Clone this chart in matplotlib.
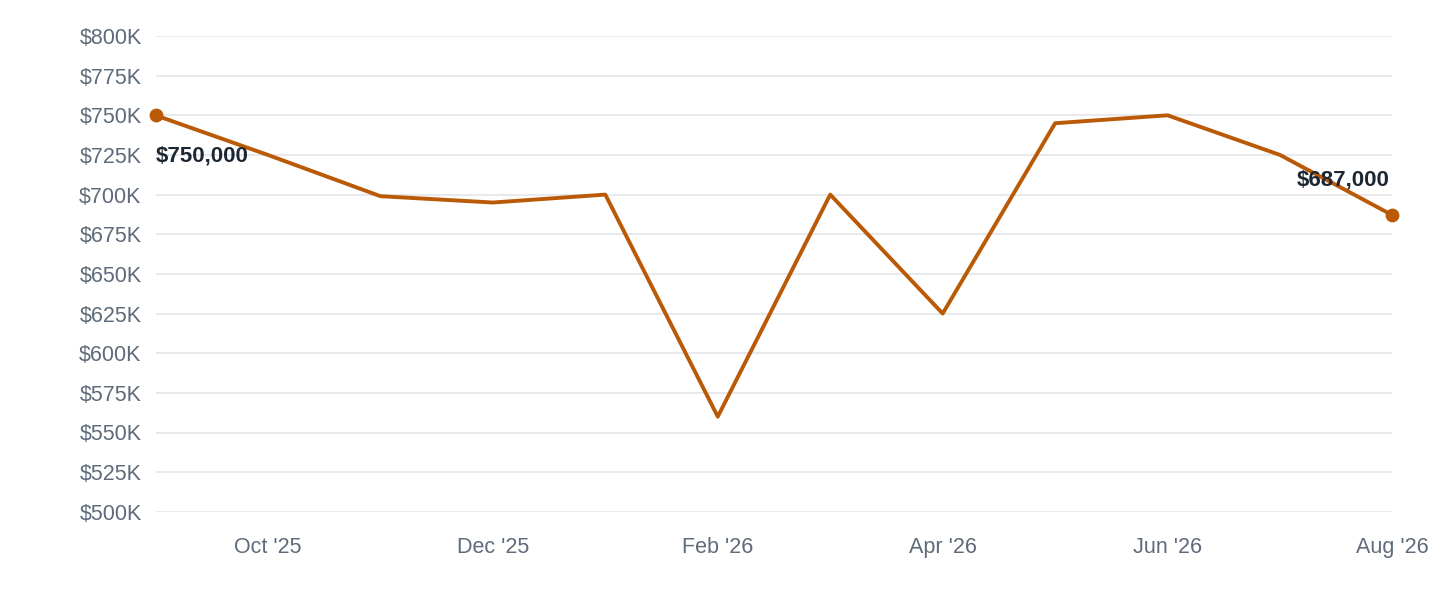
import matplotlib
matplotlib.use("Agg")
import matplotlib.pyplot as plt
from matplotlib.ticker import FuncFormatter

plt.rcParams['font.family'] = ['Liberation Sans', 'DejaVu Sans']

months = ["Sep '25","Oct '25","Nov '25","Dec '25","Jan '26","Feb '26","Mar '26","Apr '26","May '26","Jun '26","Jul '26","Aug '26"]
values = [750000, 725000, 699000, 695000, 700000, 560000, 700000, 625000, 745000, 750000, 725000, 687000]
tick_idx = [1, 3, 5, 7, 9, 11]

color = "#BA5A06"
fig = plt.figure(figsize=(14.4, 6.0), dpi=100)
ax = fig.add_axes([0.108, 0.147, 0.859, 0.793])
x = list(range(len(values)))
ax.plot(x, values, color=color, lw=2.8, zorder=3)
ax.scatter([x[0], x[-1]], [values[0], values[-1]], color=color, s=80, zorder=4, clip_on=False)
ax.set_xlim(0, len(values) - 1)
ax.set_ylim(500000, 800000)
ax.set_yticks(range(500000, 800001, 25000))
ax.yaxis.set_major_formatter(FuncFormatter(lambda v, p: f"${int(v/1000)}K"))
ax.set_xticks(tick_idx)
ax.set_xticklabels([months[i] for i in tick_idx])
ax.grid(axis="y", color="#E3E5EA", lw=1.2)
ax.set_axisbelow(True)
for s in ax.spines.values():
    s.set_visible(False)
ax.tick_params(length=0, labelsize=15.5, colors="#5F6B7A", pad=10)
ax.tick_params(axis="x", pad=18)
ax.annotate(f"${values[0]:,}", (x[0], values[0]), xytext=(0, -37), textcoords="offset points",
            fontsize=16, fontweight="bold", color="#1C2733", ha="left", va="bottom")
ax.annotate(f"${values[-1]:,}", (x[-1], values[-1]), xytext=(-2, 18), textcoords="offset points",
            fontsize=16, fontweight="bold", color="#1C2733", ha="right", va="bottom")
fig.savefig("out.png", dpi=100)
